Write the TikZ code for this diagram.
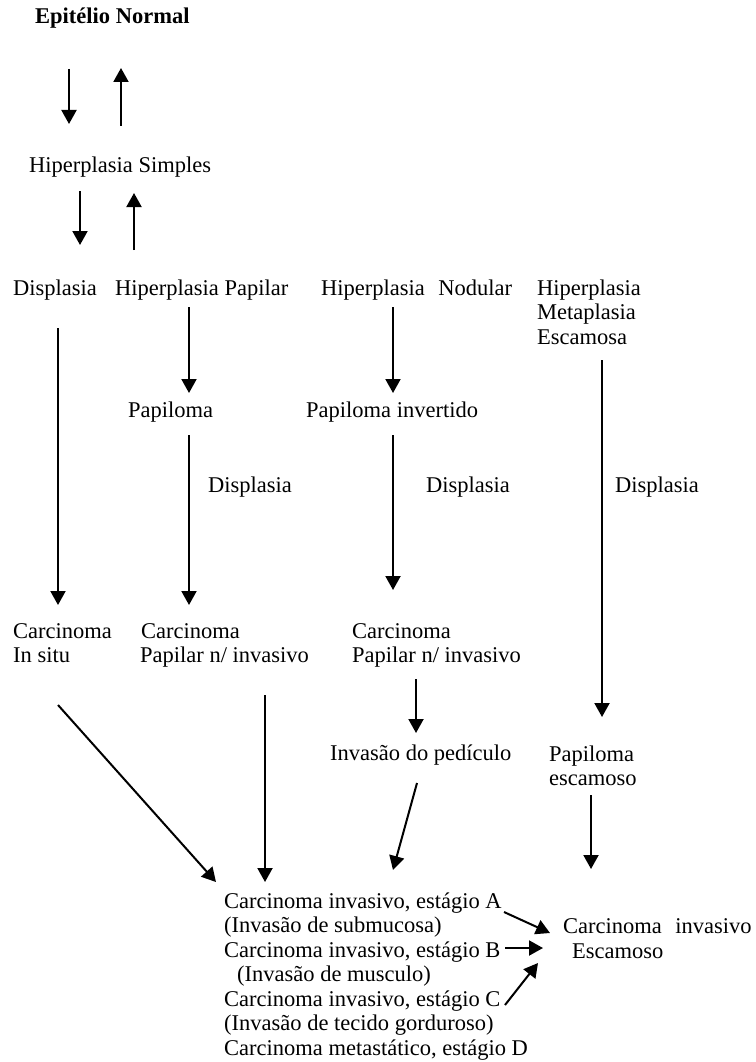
\documentclass[tikz,border=0pt]{standalone}
\usepackage{fontspec}
\setmainfont{Liberation Serif}
\usetikzlibrary{arrows.meta}
\begin{document}
\begin{tikzpicture}[x=1pt,y=-1pt,
  lbl/.style={anchor=base west,inner sep=0pt,font=\fontsize{22.5}{24.5}\selectfont},
  ttl/.style={lbl,font=\fontsize{22.5}{24.5}\selectfont\bfseries},
  arr/.style={line width=2pt,-{Triangle[width=15pt,length=14pt]}}]
\useasboundingbox (0,0) rectangle (755,1062);

% ---- texts
\node[ttl] (epi) at (35,24) {Epitélio Normal};
\node[lbl] (hs) at (29,172) {Hiperplasia Simples};
\node[lbl] (dis) at (13,295) {Displasia};
\node[lbl] (hpap) at (115,295) {Hiperplasia Papilar};
\node[lbl] (hnod) at (321,295) {Hiperplasia\hspace{0.6em}Nodular};
\node[lbl] (hm1) at (537,295) {Hiperplasia};
\node[lbl] (hm2) at (537,319.5) {Metaplasia};
\node[lbl] (hm3) at (537,344) {Escamosa};
\node[lbl] (pap) at (128,417) {Papiloma};
\node[lbl] (papinv) at (306,417) {Papiloma invertido};
\node[lbl] (d1) at (208,492) {Displasia};
\node[lbl] (d2) at (426,492) {Displasia};
\node[lbl] (d3) at (615,492) {Displasia};
\node[lbl] (cis1) at (13,638) {Carcinoma};
\node[lbl] (cis2) at (13,662.5) {In situ};
\node[lbl] (cpa1) at (141,638) {Carcinoma};
\node[lbl] (cpa2) at (140,662.5) {Papilar n/ invasivo};
\node[lbl] (cpb1) at (352,638) {Carcinoma};
\node[lbl] (cpb2) at (352,662.5) {Papilar n/ invasivo};
\node[lbl] (ped) at (330,760) {Invasão do pedículo};
\node[lbl] (pe1) at (549,761) {Papiloma};
\node[lbl] (pe2) at (549,785.5) {escamoso};
\node[lbl] (b1) at (224,908) {Carcinoma invasivo, estágio A};
\node[lbl] (b2) at (224,932.5) {(Invasão de submucosa)};
\node[lbl] (b3) at (224,957) {Carcinoma invasivo, estágio B};
\node[lbl] (b4) at (237,981.5) {(Invasão de musculo)};
\node[lbl] (b5) at (224,1006) {Carcinoma invasivo, estágio C};
\node[lbl] (b6) at (224,1030.5) {(Invasão de tecido gorduroso)};
\node[lbl] (b7) at (224,1055) {Carcinoma metastático, estágio D};
\node[lbl] (ce1) at (563,933) {Carcinoma\hspace{0.6em}invasivo};
\node[lbl] (ce2) at (572,958) {Escamoso};

% ---- arrow end points
\coordinate (a1s) at (69,69);   \coordinate (a1e) at (69,124);
\coordinate (a2s) at (121,126); \coordinate (a2e) at (121,68);
\coordinate (a3s) at (80,191);  \coordinate (a3e) at (80,245);
\coordinate (a4s) at (134,250); \coordinate (a4e) at (134,193);
\coordinate (a5s) at (58,328);  \coordinate (a5e) at (58,605);
\coordinate (a6s) at (189,307); \coordinate (a6e) at (189,393);
\coordinate (a7s) at (189,435); \coordinate (a7e) at (189,605);
\coordinate (a8s) at (393,307); \coordinate (a8e) at (393,393);
\coordinate (a9s) at (393,435); \coordinate (a9e) at (393,590);
\coordinate (a10s) at (602,360); \coordinate (a10e) at (602,717);
\coordinate (a11s) at (416,679); \coordinate (a11e) at (416,733);
\coordinate (a12s) at (58,705);  \coordinate (a12e) at (216,882);
\coordinate (a13s) at (265,695); \coordinate (a13e) at (265,882);
\coordinate (a14s) at (417,783); \coordinate (a14e) at (393,870);
\coordinate (a15s) at (591,795); \coordinate (a15e) at (591,869);
\coordinate (a16s) at (504,912); \coordinate (a16e) at (550,933);
\coordinate (a17s) at (505,948); \coordinate (a17e) at (543,948);
\coordinate (a18s) at (505,1005); \coordinate (a18e) at (538,963);

\foreach \i in {1,...,18} \draw[arr] (a\i s) -- (a\i e);
\end{tikzpicture}
\end{document}
